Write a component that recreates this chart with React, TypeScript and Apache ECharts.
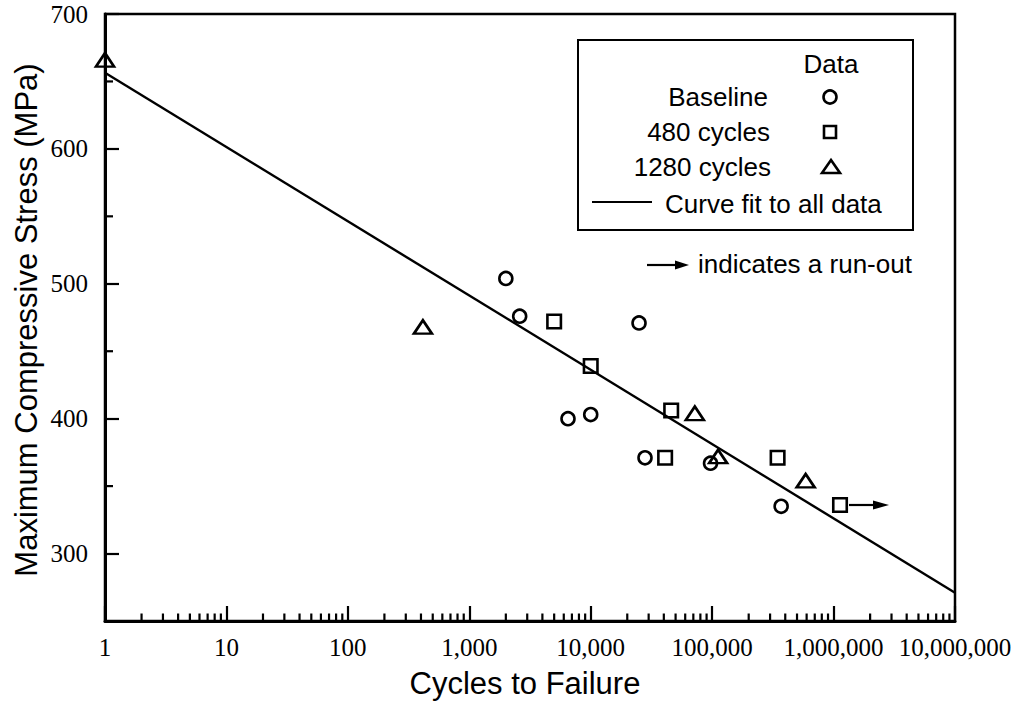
import React, { useEffect, useRef } from "react";
import * as echarts from "echarts";

// ---- data ----
const baselineCycles = [2000, 2600, 6500, 10000, 25000, 28000, 97000, 370000];
const baselineStress = [504, 476, 400, 403, 471, 371, 367, 335];
const cycles480 = [5000, 10000, 41000, 46000, 346000, 1130000];
const stress480 = [472, 439, 371, 406, 371, 336];
const cycles1280 = [1, 415, 72000, 112000, 589000];
const stress1280 = [666, 468, 404, 372, 354];
const fitCycles = [1, 10000000];
const fitStress = [656.5, 271];
const runOutCycles = [1130000];
const runOutStress = [336];

// ---- axes ----
const xMin = 1;
const xMax = 10000000;
const yMin = 250;
const yMax = 700;
const yTickLabels = [300, 400, 500, 600, 700];
const yMinorTicks = [350, 450, 550, 650];
const xDecades = [1, 10, 100, 1000, 10000, 100000, 1000000];
const xMinorMultipliers = [2, 3, 4, 5, 6, 7, 8, 9];

const SANS = '"Liberation Sans", Arial, Helvetica, sans-serif';
const SERIF = '"Liberation Serif", "Times New Roman", Times, serif';

const pairs = (xs: number[], ys: number[]) => xs.map((x, i) => [x, ys[i]]);

export default function App() {
  const ref = useRef<HTMLDivElement>(null);

  useEffect(() => {
    if (!ref.current) return;
    const chart = echarts.init(ref.current, undefined, { renderer: "svg" });

    const xMinorValues: number[] = [];
    xDecades.forEach((d) => xMinorMultipliers.forEach((m) => xMinorValues.push(d * m)));

    const markerStyle = {
      color: "rgba(0,0,0,0)",
      borderColor: "#000",
      borderWidth: 2.6,
      opacity: 1,
    };

    const option: any = {
      animation: false,
      backgroundColor: "#fff",
      grid: {
        left: 105,
        top: 14,
        right: 76,
        bottom: 83,
        show: true,
        borderColor: "#000",
        borderWidth: 2.5,
      },
      xAxis: {
        type: "log",
        logBase: 10,
        min: xMin,
        max: xMax,
        splitNumber: 7,
        axisLine: { lineStyle: { color: "#000", width: 3 } },
        axisTick: { inside: true, length: 15, lineStyle: { color: "#000", width: 2.2 } },
        axisLabel: {
          color: "#000",
          fontFamily: SERIF,
          fontSize: 25,
          margin: 14,
          showMinLabel: true,
          showMaxLabel: true,
          formatter: (v: number) => Math.round(v).toLocaleString("en-US"),
        },
        splitLine: { show: false },
      },
      yAxis: {
        type: "value",
        min: yMin,
        max: yMax,
        axisLine: { show: true, lineStyle: { color: "#000", width: 3 } },
        axisTick: {
          show: true,
          inside: true,
          length: 14,
          customValues: yTickLabels,
          lineStyle: { color: "#000", width: 2.2 },
        },
        axisLabel: {
          color: "#000",
          fontFamily: SERIF,
          fontSize: 25,
          margin: 17,
          customValues: yTickLabels,
        },
        splitLine: { show: false },
      },
      series: [
        {
          name: "Curve fit to all data",
          type: "line",
          data: pairs(fitCycles, fitStress),
          showSymbol: false,
          lineStyle: { color: "#000", width: 2.4 },
          silent: true,
          z: 2,
        },
        {
          name: "Baseline",
          type: "scatter",
          data: pairs(baselineCycles, baselineStress),
          symbol: "circle",
          symbolSize: 13,
          itemStyle: markerStyle,
          clip: false,
          z: 3,
        },
        {
          name: "480 cycles",
          type: "scatter",
          data: pairs(cycles480, stress480),
          symbol: "rect",
          symbolSize: 13.5,
          itemStyle: markerStyle,
          clip: false,
          z: 3,
        },
        {
          name: "1280 cycles",
          type: "scatter",
          data: pairs(cycles1280, stress1280),
          symbol: "triangle",
          symbolSize: [18, 13.5],
          itemStyle: markerStyle,
          clip: false,
          z: 3,
        },
        {
          name: "run-out",
          type: "custom",
          data: pairs(runOutCycles, runOutStress),
          clip: false,
          silent: true,
          z: 3,
          renderItem: (params: any, api: any) => {
            const p = api.coord([api.value(0), api.value(1)]);
            return {
              type: "group",
              children: [
                {
                  type: "line",
                  shape: { x1: p[0] + 9, y1: p[1], x2: p[0] + 38, y2: p[1] },
                  style: { stroke: "#000", lineWidth: 2.2 },
                },
                {
                  type: "polygon",
                  shape: {
                    points: [
                      [p[0] + 33, p[1] - 4.5],
                      [p[0] + 49, p[1]],
                      [p[0] + 33, p[1] + 4.5],
                    ],
                  },
                  style: { fill: "#000" },
                },
              ],
            };
          },
        },
        {
          name: "x minor ticks",
          type: "custom",
          data: xMinorValues.map((v) => [v, yMin]),
          clip: false,
          silent: true,
          z: 4,
          renderItem: (params: any, api: any) => {
            const p = api.coord([api.value(0), api.value(1)]);
            return {
              type: "line",
              shape: { x1: p[0], y1: p[1], x2: p[0], y2: p[1] - 7.5 },
              style: { stroke: "#000", lineWidth: 2.2 },
            };
          },
        },
        {
          name: "y minor ticks",
          type: "custom",
          data: yMinorTicks.map((v) => [xMin, v]),
          clip: false,
          silent: true,
          z: 4,
          renderItem: (params: any, api: any) => {
            const p = api.coord([api.value(0), api.value(1)]);
            return {
              type: "line",
              shape: { x1: p[0], y1: p[1], x2: p[0] + 8, y2: p[1] },
              style: { stroke: "#000", lineWidth: 2.2 },
            };
          },
        },
      ],
      graphic: [
        // axis titles
        {
          type: "text",
          x: 525,
          y: 683,
          style: {
            text: "Cycles to Failure",
            fontFamily: SANS,
            fontSize: 31,
            fill: "#000",
            textAlign: "center",
            textVerticalAlign: "middle",
          },
        },
        {
          type: "text",
          x: 26,
          y: 320,
          rotation: Math.PI / 2,
          style: {
            text: "Maximum Compressive Stress (MPa)",
            fontFamily: SANS,
            fontSize: 31,
            fill: "#000",
            textAlign: "center",
            textVerticalAlign: "middle",
          },
        },
        // legend box
        {
          type: "rect",
          shape: { x: 578, y: 40, width: 335, height: 190 },
          style: { fill: "#fff", stroke: "#000", lineWidth: 2 },
          z: 10,
        },
        {
          type: "text",
          x: 831,
          y: 64,
          z: 11,
          style: { text: "Data", fontFamily: SANS, fontSize: 26, fill: "#000", textAlign: "center", textVerticalAlign: "middle" },
        },
        {
          type: "text",
          x: 768,
          y: 97,
          z: 11,
          style: { text: "Baseline", fontFamily: SANS, fontSize: 26, fill: "#000", textAlign: "right", textVerticalAlign: "middle" },
        },
        {
          type: "circle",
          z: 11,
          shape: { cx: 830, cy: 97, r: 6.5 },
          style: { fill: "none", stroke: "#000", lineWidth: 2.6 },
        },
        {
          type: "text",
          x: 770,
          y: 132,
          z: 11,
          style: { text: "480 cycles", fontFamily: SANS, fontSize: 26, fill: "#000", textAlign: "right", textVerticalAlign: "middle" },
        },
        {
          type: "rect",
          z: 11,
          shape: { x: 824, y: 126, width: 12, height: 12 },
          style: { fill: "none", stroke: "#000", lineWidth: 2.6 },
        },
        {
          type: "text",
          x: 771,
          y: 167,
          z: 11,
          style: { text: "1280 cycles", fontFamily: SANS, fontSize: 26, fill: "#000", textAlign: "right", textVerticalAlign: "middle" },
        },
        {
          type: "polygon",
          z: 11,
          shape: { points: [[831, 160], [840, 173], [822, 173]] },
          style: { fill: "none", stroke: "#000", lineWidth: 2.6 },
        },
        {
          type: "line",
          z: 11,
          shape: { x1: 592, y1: 202, x2: 652, y2: 202 },
          style: { stroke: "#000", lineWidth: 2 },
        },
        {
          type: "text",
          x: 665,
          y: 204,
          z: 11,
          style: { text: "Curve fit to all data", fontFamily: SANS, fontSize: 26, fill: "#000", textAlign: "left", textVerticalAlign: "middle" },
        },
        // run-out note
        {
          type: "line",
          z: 11,
          shape: { x1: 647, y1: 265, x2: 678, y2: 265 },
          style: { stroke: "#000", lineWidth: 2.2 },
        },
        {
          type: "polygon",
          z: 11,
          shape: { points: [[675, 260.5], [689, 265], [675, 269.5]] },
          style: { fill: "#000" },
        },
        {
          type: "text",
          x: 698,
          y: 264,
          z: 11,
          style: { text: "indicates a run-out", fontFamily: SANS, fontSize: 26, fill: "#000", textAlign: "left", textVerticalAlign: "middle" },
        },
      ],
    };

    chart.setOption(option);
    return () => chart.dispose();
  }, []);

  return (
    <div
      ref={ref}
      style={{ position: "fixed", left: 0, top: 0, width: 1031, height: 704, background: "#fff" }}
    />
  );
}
